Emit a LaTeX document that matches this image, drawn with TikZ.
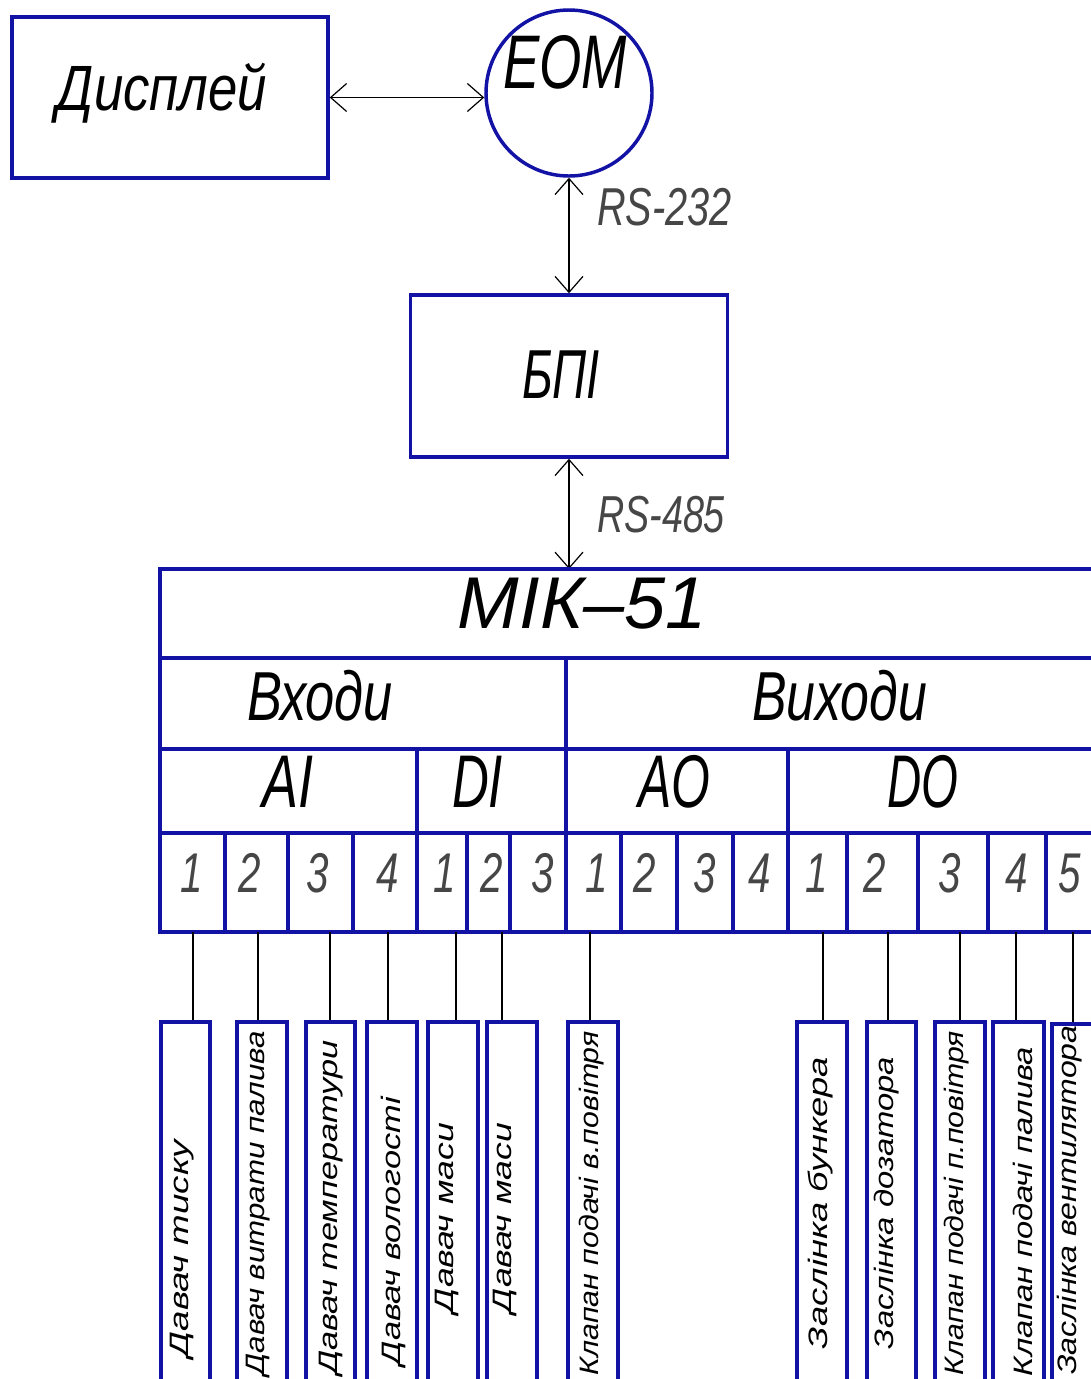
\documentclass[tikz,border=0pt]{standalone}
\usepackage{fontspec}
\usepackage{graphicx}
\setmainfont{Liberation Sans}
\usetikzlibrary{arrows.meta}
\definecolor{lineblue}{RGB}{18,18,165}
\definecolor{txtgrey}{RGB}{70,70,70}
\newcommand{\fitw}[2]{\resizebox{#1}{\height}{#2}}
\newcommand{\fsz}[1]{\fontsize{#1}{#1}\selectfont}
\tikzset{
  blubox/.style={draw=lineblue, line width=2.6pt, inner sep=0pt},
  gridline/.style={draw=lineblue, line width=2.6pt, line cap=rect},
  conn/.style={draw=black, line width=0.9pt},
  link/.style={draw=black, line width=0.9pt,
    {Straight Barb[length=12pt,width=21pt]}-{Straight Barb[length=12pt,width=21pt]}},
  lbl/.style={inner sep=0pt, anchor=base, font=\itshape},
  numlbl/.style={inner sep=0pt, anchor=base, text=txtgrey, font=\itshape\fsz{42}},
  sens/.style={inner sep=0pt, rotate=90, font=\itshape\fsz{20}},
}
\begin{document}
\begin{tikzpicture}[x=0.75pt,y=-0.75pt]
\useasboundingbox (0,0) rectangle (1091,1379);
\clip (0,0) rectangle (1091,1379);
\fill[white] (0,0) rectangle (1091,1379);

% top blocks
\node[blubox, minimum width=237pt, minimum height=120.75pt] (disp) at (170,97.5) {};
\node[lbl, font=\itshape\fsz{48}] (disptxt) at (162,110) {\fitw{157.5pt}{Дисплей}};
\node[blubox, circle, minimum size=124.5pt] (eom) at (569,93) {};
\node[lbl, font=\itshape\fsz{57}] (eomtxt) at (565,88) {\fitw{93pt}{ЕОМ}};
\node[blubox, minimum width=237.75pt, minimum height=121.5pt] (bpi) at (569,376) {};
\node[lbl, font=\itshape\fsz{52}] (bpitxt) at (561,398) {\fitw{58.5pt}{БПІ}};

\draw[link] (disp.east) -- (disp.east -| eom.west);
\draw[link] (eom.south) -- (bpi.north);
\node[lbl, text=txtgrey, font=\itshape\fsz{40}] (rs232) at (664.5,225) {\fitw{101pt}{RS-232}};

\coordinate (mtop) at (569,569);
\draw[link] (bpi.south) -- (bpi.south |- mtop);
\node[lbl, text=txtgrey, font=\itshape\fsz{39}] (rs485) at (661,532) {\fitw{96pt}{RS-485}};

% table
\draw[gridline] (1100,569) -- (160,569) -- (160,932) -- (1100,932);
\draw[gridline] (160,658) -- (1100,658);
\draw[gridline] (160,749) -- (1100,749);
\draw[gridline] (160,833) -- (1100,833);
\draw[gridline] (566,658) -- (566,932);
\foreach \x in {417,788} \draw[gridline] (\x,749) -- (\x,932);
\foreach \x in {225,288,353,467,510,621,677,733,847,918,988,1046} \draw[gridline] (\x,833) -- (\x,932);

\node[lbl, font=\itshape\fsz{55}] (mik) at (582.5,628) {\fitw{186.75pt}{МІК–51}};
\node[lbl, font=\itshape\fsz{52}] (inputs) at (320,720) {\fitw{109.5pt}{Входи}};
\node[lbl, font=\itshape\fsz{52}] (outputs) at (839.5,720) {\fitw{131.25pt}{Виходи}};
\node[lbl, font=\itshape\fsz{56}] (ai) at (287.5,807) {\fitw{38.25pt}{AI}};
\node[lbl, font=\itshape\fsz{56}] (di) at (477.5,807) {\fitw{38.25pt}{DI}};
\node[lbl, font=\itshape\fsz{56}] (ao) at (674,807) {\fitw{54pt}{AO}};
\node[lbl, font=\itshape\fsz{56}] (dout) at (922.5,807) {\fitw{53.25pt}{DO}};

\foreach \x/\n/\nm in {192/1/a1,250/2/a2,318/3/a3,388/4/a4,445/1/d1,492/2/d2,543/3/d3,
  597/1/o1,645/2/o2,705/3/o3,760/4/o4,817/1/q1,875/2/q2,950/3/q3,1017/4/q4,1070/5/q5}
  \node[numlbl] (n\nm) at (\x,892) {\scalebox{0.72}[1]{\n}};

% sensor boxes
\foreach \c/\w/\nm in {185.5/36.75/s1,262/37.5/s2,330.5/36.75/s3,392/37.5/s4,453/37.5/s5,
  512/37.5/s6,593/37.5/s7,822/37.5/s8,891.5/36.75/s9,960/37.5/s10,1018.5/38.25/s11}
  \node[blubox, minimum width=\w pt, minimum height=298.5pt] (\nm) at (\c,1221) {};
\node[blubox, minimum width=37.5pt, minimum height=298.5pt] (s12) at (1077,1223) {};

% connectors
\foreach \x/\nm in {193/s1,258/s2,330/s3,388/s4,456/s5,502/s6,590/s7,823/s8,888/s9,960/s10,1016/s11,1073/s12}{
  \coordinate (p\nm) at (\x,932);
  \draw[conn] (p\nm) -- (p\nm |- \nm.north);
}

% sensor texts
\node[sens] (t1) at (182,1248.5) {\fitw{162.75pt}{Давач тиску}};
\node[sens, anchor=east] (t2) at (258,1031) {\fitw{258pt}{Давач витрати палива}};
\node[sens, anchor=east] (t3) at (331,1040) {\fitw{251pt}{Давач температури}};
\node[sens] (t4) at (393,1231) {\fitw{201pt}{Давач вологості}};
\node[sens] (t5) at (447,1218) {\fitw{142.5pt}{Давач маси}};
\node[sens] (t6) at (505,1218) {\fitw{142.5pt}{Давач маси}};
\node[sens, anchor=east] (t7) at (592,1031) {\fitw{258pt}{Клапан подачі в.повітря}};
\node[sens] (t8) at (820,1203) {\fitw{219pt}{Заслінка бункера}};
\node[sens] (t9) at (887,1203) {\fitw{219pt}{Заслінка дозатора}};
\node[sens, anchor=east] (t10) at (957,1031) {\fitw{258pt}{Клапан подачі п.повітря}};
\node[sens] (t11) at (1023,1211.5) {\fitw{246.75pt}{Клапан подачі палива}};
\node[sens] (t12) at (1070,1200) {\fitw{262pt}{Заслінка вентилятора}};
\end{tikzpicture}
\end{document}
